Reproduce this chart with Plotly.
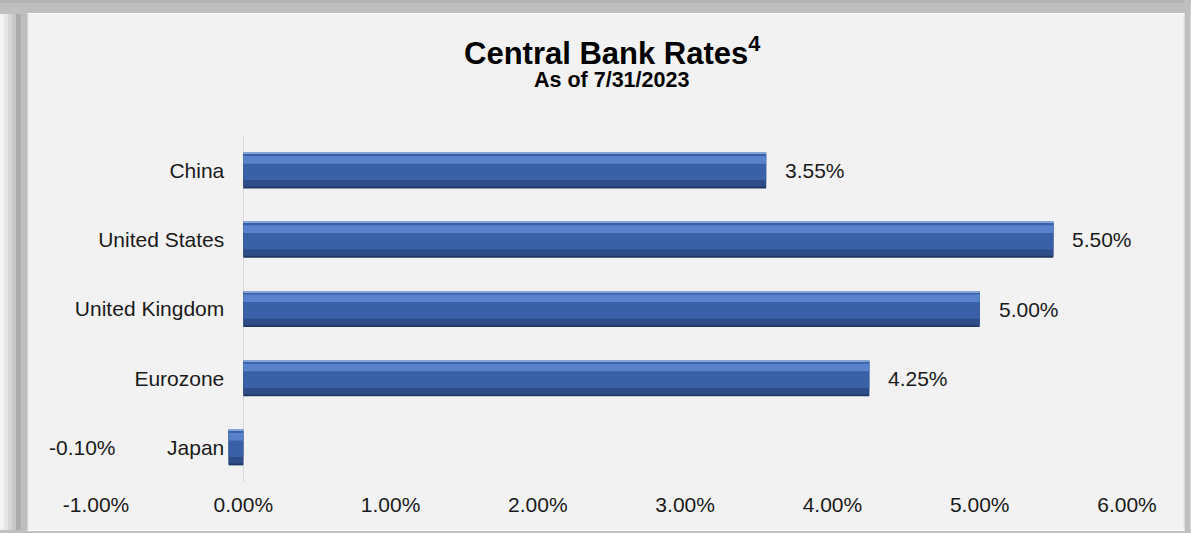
import plotly.graph_objects as go

# ---- data ----
countries = ["China", "United States", "United Kingdom", "Eurozone", "Japan"]
rates = [3.55, 5.50, 5.00, 4.25, -0.10]
rate_labels = ["3.55%", "5.50%", "5.00%", "4.25%", "-0.10%"]
x_tick_vals = [-1, 0, 1, 2, 3, 4, 5, 6]
x_tick_text = ["-1.00%", "0.00%", "1.00%", "2.00%", "3.00%", "4.00%", "5.00%", "6.00%"]
title_text = "Central Bank Rates<sup>4</sup>"
subtitle_text = "As of 7/31/2023"

# plot order: bottom to top
cats = countries[::-1]
vals = rates[::-1]
labs = rate_labels[::-1]

W, H = 1191, 533
L, R, T, B = 96.4, 63.5, 136, 51
pw = W - L - R
ph = H - T - B
FONT = "Liberation Sans, Arial, sans-serif"


def fx(px):
    return (px - L) / pw


def fy(py):
    return (H - B - py) / ph


fig = go.Figure()

# bevel-like layered bars
layers = [
    (-0.26, 0.52, "#1f3762"),
    (-0.235, 0.48, "#2d4c88"),
    (-0.14, 0.385, "#3a61a8"),
    (0.10, 0.11, "#5882cb"),
    (0.243, 0.017, "#86a3d8"),
]
for off, wd, col in layers:
    fig.add_trace(go.Bar(
        x=vals, y=cats, orientation="h",
        offset=off, width=wd,
        marker=dict(color=col, line=dict(width=0)),
        hoverinfo="skip", showlegend=False,
    ))

# value labels
for v, c, t in zip(vals, cats, labs):
    if v >= 0:
        fig.add_annotation(x=v, y=c, text=t, xanchor="left", xshift=17,
                           showarrow=False,
                           font=dict(family=FONT, size=21, color="#1a1a1a"))
    else:
        fig.add_annotation(x=v, y=c, text=t, xanchor="right", xshift=-111,
                           showarrow=False,
                           font=dict(family=FONT, size=21, color="#1a1a1a"))

# titles
fig.add_annotation(xref="paper", yref="paper", x=0.5, y=fy(51), text="<b>" + title_text + "</b>",
                   showarrow=False, xanchor="center", yanchor="middle",
                   font=dict(family=FONT, size=31, color="#000000"))
fig.add_annotation(xref="paper", yref="paper", x=0.5, y=fy(80), text="<b>" + subtitle_text + "</b>",
                   showarrow=False, xanchor="center", yanchor="middle",
                   font=dict(family=FONT, size=21.5, color="#000000"))

# frame
frame = [
    (0, 0, 4, H, "#f4f4f4"),
    (4, 0, 8, H, "#e6e6e6"),
    (8, 0, 12, H, "#d6d6d6"),
    (12, 0, 16, H, "#c6c6c6"),
    (16, 0, 22, H, "#acacac"),
    (22, 0, 29, H, "#bdbdbd"),
    (0, 0, W, 14, "#bfbfbf"),
    (0, 0, W, 3, "#b3b3b3"),
    (1184, 0, W, H, "#c0c0c0"),
    (0, 530, W, H, "#c0c0c0"),
    (28, 13, 1185, 14, "#fafafa"),
    (28, 13, 29, 531, "#fafafa"),
    (1184, 13, 1185, 531, "#fafafa"),
    (28, 530, 1185, 531, "#fafafa"),
]
for x0, y0, x1, y1, col in frame:
    fig.add_shape(type="rect", xref="paper", yref="paper",
                  x0=fx(x0), x1=fx(x1), y0=fy(y0), y1=fy(y1),
                  fillcolor=col, line=dict(width=0), layer="below")

fig.update_layout(
    width=W, height=H,
    margin=dict(l=L, r=R, t=T, b=B, pad=0),
    paper_bgcolor="#f2f2f2", plot_bgcolor="#f2f2f2",
    barmode="overlay",
    showlegend=False,
    xaxis=dict(range=[-1, 6], tickvals=x_tick_vals, ticktext=x_tick_text,
               showgrid=False, zeroline=True, zerolinecolor="#d9d9d9", zerolinewidth=1,
               showline=False, ticks="", ticklabelstandoff=8,
               tickfont=dict(family=FONT, size=21, color="#1a1a1a")),
    yaxis=dict(type="category", categoryorder="array", categoryarray=cats,
               range=[-0.5, 4.5], anchor="free", position=1 / 7,
               showgrid=False, zeroline=False, showline=False, ticks="",
               ticklabelstandoff=19,
               tickfont=dict(family=FONT, size=21, color="#1a1a1a")),
)

fig.write_html("out.html",
               config={"displayModeBar": False},
               post_script="document.body.style.margin='0';document.body.style.overflow='hidden';")
